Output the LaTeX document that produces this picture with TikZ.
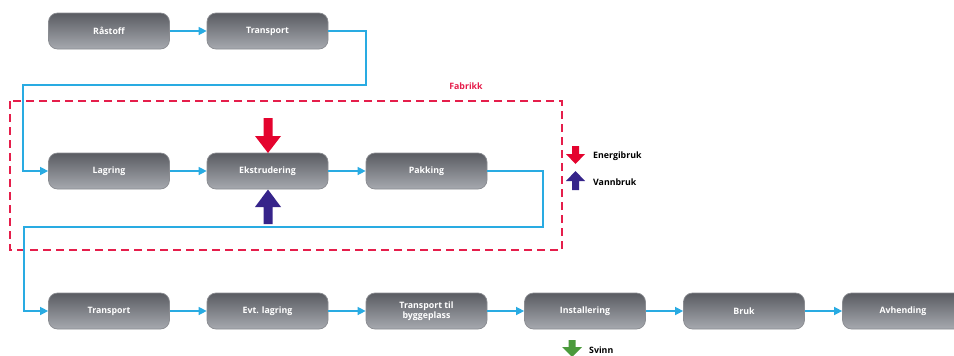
\documentclass[tikz,border=0pt]{standalone}
\usepackage{fontspec}
\setmainfont{Open Sans}
\usetikzlibrary{arrows.meta}
\definecolor{boxtop}{HTML}{5A5C62}
\definecolor{boxbot}{HTML}{A6A9AF}
\definecolor{boxline}{HTML}{8A8C91}
\definecolor{flow}{HTML}{29ABE2}
\definecolor{fabred}{HTML}{E51E4B}
\definecolor{energy}{HTML}{E4032E}
\definecolor{water}{HTML}{36248A}
\definecolor{waste}{HTML}{4B9A3C}
\begin{document}
\begin{tikzpicture}[x=1pt,y=-1pt,
  proc/.style={draw=boxline, line width=0.7pt, rounded corners=9pt,
    top color=boxtop, bottom color=boxbot, minimum width=121pt, minimum height=36pt,
    text=white, font=\bfseries\fontsize{8.8}{10}\selectfont, align=center, inner sep=1pt},
  flowline/.style={draw=flow, line width=1.4pt, -{Triangle[length=8pt,width=8pt]}},
  legend/.style={font=\bfseries\fontsize{8.8}{9.5}\selectfont, anchor=west, inner sep=0pt},
  fabframe/.style={draw=fabred, line width=1.2pt, dash pattern=on 8pt off 5pt}]
\useasboundingbox (0,0) rectangle (954,356);
\begin{scope}
\clip (0,0) rectangle (954,356);
% row 1
\node[proc] (ra) at (109,31) {Råstoff};
\node[proc] (t1) at (267.5,31) {Transport};
% frame
\draw[fabframe] (10,101) rectangle (562,250);
\node[font=\bfseries\fontsize{8.8}{9.5}\selectfont, text=fabred] (fab) at (466,86) {Fabrikk};
% row 2
\node[proc] (lag) at (109,171) {Lagring};
\node[proc] (ek) at (267.5,171) {Ekstrudering};
\node[proc] (pak) at (426.5,171) {Pakking};
% row 3
\node[proc] (t2) at (109,311) {Transport};
\node[proc] (evt) at (267.5,311) {Evt. lagring};
\node[proc] (tb) at (426.5,311) {Transport til\\byggeplass};
\node[proc] (ins) at (585,311) {Installering};
\node[proc] (bruk) at (744,311) {Bruk};
\node[proc] (avh) at (903,311) {Avhending};
% connectors
\coordinate (k1) at (366,85);
\coordinate (k2) at (23,85);
\coordinate (k3) at (543,227);
\coordinate (k4) at (24,227);
\draw[flowline] (ra.east) -- (t1.west);
\draw[flowline] (t1.east) -| (k1) -- (k2) |- (lag.west);
\draw[flowline] (lag.east) -- (ek.west);
\draw[flowline] (ek.east) -- (pak.west);
\draw[flowline] (pak.east) -| (k3) -- (k4) |- (t2.west);
\draw[flowline] (t2.east) -- (evt.west);
\draw[flowline] (evt.east) -- (tb.west);
\draw[flowline] (tb.east) -- (ins.west);
\draw[flowline] (ins.east) -- (bruk.west);
\draw[flowline] (bruk.east) -- (avh.west);
% big arrows at Ekstrudering
\fill[energy] (263.5,118) -- (272.5,118) -- (272.5,136) -- (281,136) -- (268,153) -- (255,136) -- (263.5,136) -- cycle;
\fill[water] (263.5,224) -- (272.5,224) -- (272.5,207) -- (281,207) -- (268,189.5) -- (255,207) -- (263.5,207) -- cycle;
% legend
\fill[energy] (572,146) -- (579,146) -- (579,154) -- (585,154) -- (575.5,164) -- (566,154) -- (572,154) -- cycle;
\node[legend] (le) at (593,156) {Energibruk};
\fill[water] (572,190) -- (579,190) -- (579,181) -- (585,181) -- (575.5,171) -- (566,181) -- (572,181) -- cycle;
\node[legend] (lv) at (593,182) {Vannbruk};
\fill[waste] (568.5,340) -- (575.5,340) -- (575.5,347) -- (582,347) -- (572,357) -- (562,347) -- (568.5,347) -- cycle;
\node[legend] (sv) at (589,350) {Svinn};
\end{scope}
\end{tikzpicture}
\end{document}
